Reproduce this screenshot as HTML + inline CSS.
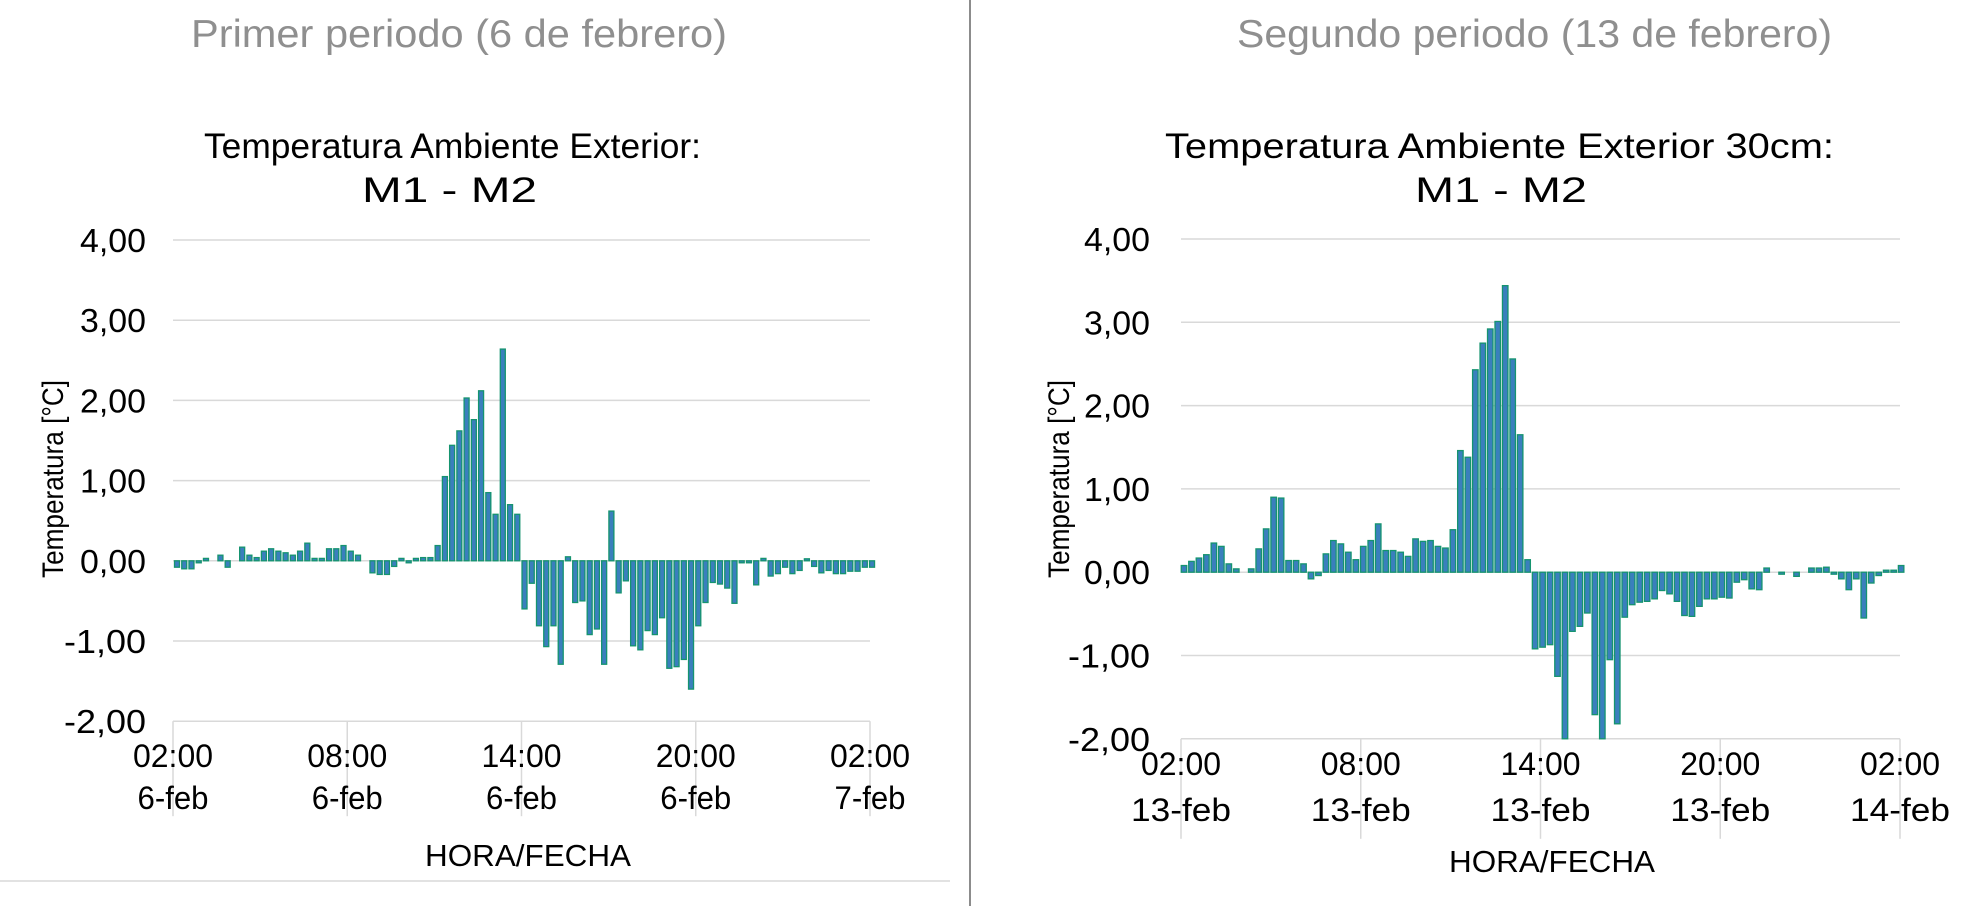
<!DOCTYPE html>
<html><head><meta charset="utf-8"><style>
html,body{margin:0;padding:0;background:#fff;}
svg{display:block;}
text{font-family:"Liberation Sans",Arial,sans-serif;fill:#000;}
</style></head><body>
<svg id="s" width="1971" height="906" viewBox="0 0 1971 906" xmlns="http://www.w3.org/2000/svg">
<rect width="1971" height="906" fill="#fff"/>
<line x1="970" y1="0" x2="970" y2="906" stroke="#8c8c8c" stroke-width="2"/>
<line x1="0" y1="881" x2="950" y2="881" stroke="#e2e2e2" stroke-width="2"/>
<text x="191" y="47" font-size="39" textLength="536" lengthAdjust="spacingAndGlyphs" style="fill:#8f8f8f">Primer periodo (6 de febrero)</text>
<text x="1237" y="47" font-size="39" textLength="595" lengthAdjust="spacingAndGlyphs" style="fill:#8f8f8f">Segundo periodo (13 de febrero)</text>

<text x="204" y="158" font-size="35" textLength="497" lengthAdjust="spacingAndGlyphs">Temperatura Ambiente Exterior:</text>
<text x="362" y="202" font-size="35" textLength="175" lengthAdjust="spacingAndGlyphs">M1 - M2</text>
<text x="1165" y="158" font-size="35" textLength="669" lengthAdjust="spacingAndGlyphs">Temperatura Ambiente Exterior 30cm:</text>
<text x="1415" y="202" font-size="35" textLength="172" lengthAdjust="spacingAndGlyphs">M1 - M2</text>

<text transform="translate(63,479) rotate(-90)" font-size="30" text-anchor="middle" textLength="198" lengthAdjust="spacingAndGlyphs">Temperatura [°C]</text>
<text transform="translate(1069,479) rotate(-90)" font-size="30" text-anchor="middle" textLength="198" lengthAdjust="spacingAndGlyphs">Temperatura [°C]</text>

<text x="528" y="866" font-size="31" text-anchor="middle" textLength="206" lengthAdjust="spacingAndGlyphs">HORA/FECHA</text>
<text x="1552" y="872" font-size="31" text-anchor="middle" textLength="206" lengthAdjust="spacingAndGlyphs">HORA/FECHA</text>
<g id="g"></g>
</svg>
<script>
var g=document.getElementById('g'),NS='http://www.w3.org/2000/svg';
function el(t,a,txt){var e=document.createElementNS(NS,t);for(var k in a)e.setAttribute(k,a[k]);if(txt!=null)e.textContent=txt;g.appendChild(e);return e;}
var L=[-0.08,-0.1,-0.1,-0.02,0.03,0,0.07,-0.08,0,0.17,0.07,0.04,0.12,0.15,0.12,0.1,0.07,0.12,0.22,0.03,0.03,0.15,0.15,0.19,0.12,0.07,0,-0.15,-0.17,-0.17,-0.07,0.03,-0.02,0.03,0.04,0.04,0.19,1.05,1.44,1.62,2.03,1.76,2.12,0.85,0.58,2.64,0.7,0.58,-0.6,-0.28,-0.81,-1.07,-0.81,-1.29,0.05,-0.52,-0.5,-0.92,-0.85,-1.29,0.62,-0.4,-0.25,-1.06,-1.11,-0.87,-0.92,-0.71,-1.34,-1.32,-1.23,-1.6,-0.81,-0.52,-0.27,-0.29,-0.34,-0.53,-0.02,-0.02,-0.3,0.03,-0.19,-0.16,-0.08,-0.16,-0.12,0.02,-0.07,-0.15,-0.12,-0.16,-0.16,-0.13,-0.13,-0.08,-0.08];
var R=[0.08,0.13,0.17,0.21,0.35,0.31,0.1,0.04,0,0.04,0.28,0.52,0.9,0.89,0.14,0.14,0.1,-0.08,-0.04,0.22,0.38,0.34,0.24,0.15,0.31,0.38,0.58,0.26,0.26,0.24,0.19,0.4,0.37,0.38,0.31,0.29,0.51,1.46,1.38,2.43,2.75,2.92,3.01,3.44,2.56,1.65,0.15,-0.92,-0.9,-0.87,-1.25,-2.0,-0.71,-0.65,-0.49,-1.71,-2.0,-1.05,-1.82,-0.54,-0.39,-0.36,-0.35,-0.32,-0.22,-0.26,-0.35,-0.52,-0.53,-0.41,-0.32,-0.32,-0.3,-0.31,-0.12,-0.09,-0.2,-0.21,0.05,0,-0.02,0,-0.05,0,0.05,0.05,0.06,-0.02,-0.08,-0.21,-0.08,-0.55,-0.13,-0.04,0.02,0.02,0.08];
function chart(c){
  var ylab=['4,00','3,00','2,00','1,00','0,00','-1,00','-2,00'];
  for(var i=0;i<7;i++){var y=c.top+i*c.u;
    el('line',{x1:c.x0,x2:c.x1,y1:y,y2:y,stroke:'#d9d9d9','stroke-width':1.5});
    el('text',{x:c.lx,y:y+12,'font-size':33,'text-anchor':'end',textLength:(i==5||i==6)?82:66,lengthAdjust:'spacingAndGlyphs'},ylab[i]);}
  var bot=c.top+6*c.u;
  for(var k=0;k<5;k++){var x=c.x0+k*(c.x1-c.x0)/4;
    el('line',{x1:x,x2:x,y1:bot,y2:bot+c.tl,stroke:'#d9d9d9','stroke-width':1.5});
    el('text',{x:x,y:c.ty1,'font-size':32,'text-anchor':'middle',textLength:80,lengthAdjust:'spacingAndGlyphs'},'02:00 08:00 14:00 20:00 02:00'.split(' ')[k]);
    el('text',{x:x,y:c.ty2,'font-size':32,'text-anchor':'middle',textLength:c.dl,lengthAdjust:'spacingAndGlyphs'},c.d[k]);}
  var z=c.top+4*c.u;
  for(var j=0;j<c.v.length;j++){var v=c.v[j];if(v==0)continue;var h=Math.abs(v)*c.u;if(h<2)h=2;
    var cx=c.b0+j*c.bs;
    el('rect',{x:cx-c.bw/2,y:v>0?z-h:z,width:c.bw,height:h,fill:'#3a7fbd',stroke:'#15946f','stroke-width':1.3});}
}
chart({x0:173,x1:870,top:240,u:80.2,lx:146,tl:95,ty1:767,ty2:809,d:['6-feb','6-feb','6-feb','6-feb','7-feb'],dl:71,v:L,b0:177,bs:7.24,bw:5});
chart({x0:1181,x1:1900,top:239,u:83.3,lx:1150,tl:100,ty1:775,ty2:821,d:['13-feb','13-feb','13-feb','13-feb','14-feb'],dl:100,v:R,b0:1184,bs:7.47,bw:5.5});
</script>
</body></html>
